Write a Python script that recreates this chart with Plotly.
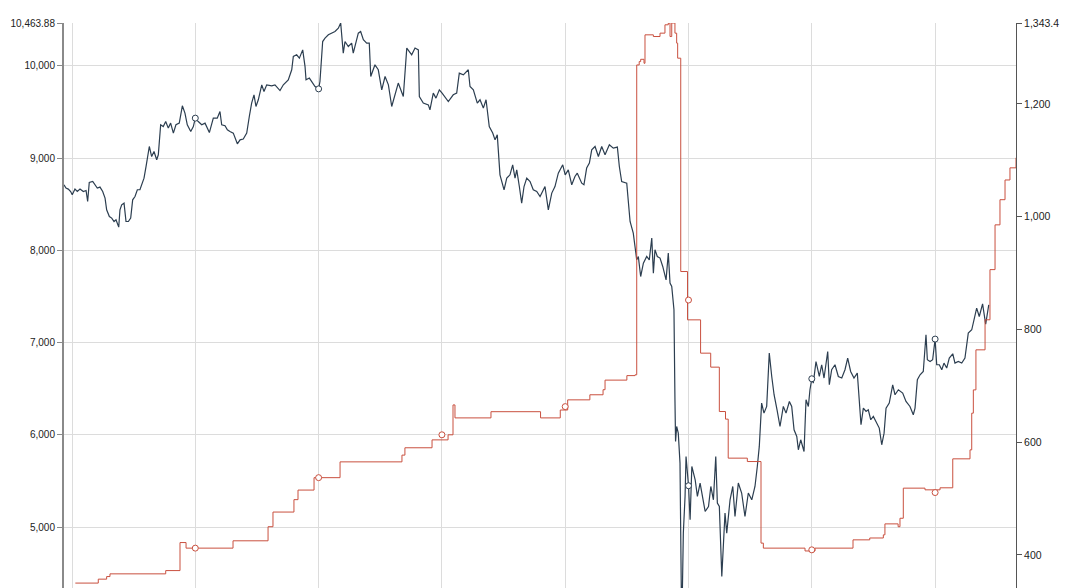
import plotly.graph_objects as go

# ---- data (x = days, gridlines every 10 days) ----
price_days = [-0.65,-0.49,-0.30,-0.11,0.02,0.24,0.43,0.65,0.92,1.14,1.27,1.40,1.68,1.87,2.05,2.27,2.49,2.68,2.81,3.03,
 3.22,3.41,3.57,3.79,3.89,4.03,4.22,4.38,4.57,4.76,4.92,5.11,5.30,5.51,5.65,5.84,6.00,6.27,6.46,6.65,
 6.87,7.00,7.19,7.40,7.60,7.81,8.00,8.22,8.43,8.70,8.95,9.16,9.35,9.63,9.84,10.00,10.24,10.52,10.79,11.14,
 11.46,11.78,12.00,12.14,12.41,12.60,12.81,13.08,13.41,13.63,13.89,14.17,14.38,14.57,14.76,14.92,15.11,15.39,15.57,15.79,
 16.20,16.46,16.87,17.14,17.54,17.82,17.95,18.22,18.44,18.71,18.90,18.98,19.25,19.44,19.71,20.00,20.11,20.33,20.52,20.79,
 21.06,21.33,21.60,21.79,22.00,22.14,22.41,22.68,22.81,23.03,23.22,23.41,23.63,23.90,24.11,24.23,24.57,24.84,25.12,25.39,
 25.66,25.93,26.20,26.46,26.87,27.15,27.55,27.82,28.09,28.17,28.49,28.90,29.03,29.30,29.52,29.79,30.00,30.52,30.92,31.20,
 31.41,31.74,32.14,32.28,32.55,32.87,33.09,33.36,33.58,33.84,34.12,34.31,34.49,34.71,35.04,35.26,35.52,35.74,35.93,36.07,
 36.28,36.47,36.66,36.88,37.15,37.41,37.69,37.96,38.36,38.63,38.91,39.17,39.44,39.80,40.00,40.25,40.53,40.79,40.98,41.34,
 41.52,41.74,41.96,42.15,42.42,42.69,42.96,43.23,43.58,43.90,44.23,44.39,44.58,44.99,45.26,45.52,45.66,45.80,45.93,46.12,
 46.34,46.61,46.82,47.02,47.15,47.28,47.47,47.69,47.91,48.18,48.36,48.50,48.64,48.82,48.90,48.95,49.04,49.17,49.31,49.45,
 49.58,49.72,49.80,50.00,50.13,50.27,50.54,50.72,50.94,51.08,51.35,51.62,51.81,52.02,52.21,52.34,52.50,52.70,52.96,53.10,
 53.37,53.59,53.77,54.04,54.31,54.58,54.85,55.13,55.39,55.58,55.74,55.93,56.12,56.34,56.55,56.75,56.94,57.18,57.42,57.69,
 57.91,58.18,58.37,58.56,58.78,58.91,59.10,59.37,59.53,59.72,59.85,60.00,60.12,60.34,60.61,60.80,60.99,61.29,61.42,61.61,
 61.88,62.15,62.43,62.69,62.91,63.15,63.42,63.69,63.91,63.99,64.18,64.40,64.58,64.78,64.99,65.26,65.47,65.67,65.86,66.02,
 66.28,66.56,66.75,67.02,67.37,67.64,67.96,68.23,68.37,68.56,68.78,69.04,69.26,69.37,69.59,69.80,70.00,70.13,70.34,70.54,
 70.72,70.94,71.15,71.43,71.61,71.88,72.16,72.42,72.69,72.97,73.24,73.37,73.58,73.85,74.10,74.35]
price_vals = [8710,8675,8664,8638,8602,8664,8638,8664,8638,8649,8530,8736,8747,8711,8675,8686,8638,8567,8440,8367,
 8350,8313,8332,8252,8440,8494,8512,8313,8313,8350,8548,8584,8657,8657,8711,8783,8906,9126,9017,9072,
 8982,9036,9361,9342,9396,9325,9379,9271,9361,9379,9567,9488,9361,9288,9342,9433,9396,9361,9379,9277,
 9433,9433,9505,9361,9350,9307,9288,9271,9155,9198,9206,9271,9451,9596,9686,9559,9632,9794,9722,9794,
 9783,9794,9732,9794,9848,9957,10101,10119,10083,10173,9992,9848,9867,9830,9776,9750,9830,10263,10300,10336,
 10354,10372,10408,10463.88,10137,10263,10209,10246,10137,10263,10354,10372,10282,10246,10246,9884,10011,9957,9740,9884,
 9794,9559,9686,9813,9667,10192,10119,10192,10173,9667,9596,9577,9523,9704,9650,9740,9707,9613,9686,9704,
 9921,9902,9957,9776,9740,9596,9632,9542,9632,9342,9271,9198,9252,8819,8656,8783,8819,8927,8783,8873,
 8692,8512,8692,8783,8746,8657,8638,8584,8692,8440,8621,8692,8837,8927,8819,8873,8711,8801,8837,8729,
 8711,8892,8946,9090,9126,9017,9126,9036,9144,9108,9119,8909,8746,8729,8313,8187,8042,7898,7934,7717,
 7862,7934,7898,8133,7754,8007,7934,7917,7826,7681,7971,7646,7609,7357,6381,5930,6092,6020,5695,3870,
 4937,5334,5767,5450,5081,5659,5515,5334,5479,5371,5171,5225,5442,5298,5767,5262,5225,4467,5154,4937,
 5298,5442,5117,5479,5371,5117,5371,5298,5442,5659,5876,6346,6237,6309,6887,6634,6436,6273,6092,6309,
 6237,6363,6309,6056,5984,5840,5948,5821,6381,6309,6490,6609,6562,6796,6634,6761,6617,6905,6544,6707,
 6761,6634,6617,6707,6833,6688,6617,6671,6309,6111,6291,6255,6273,6165,6201,6129,6075,5894,6020,6291,
 6346,6544,6436,6490,6454,6363,6309,6219,6291,6598,6652,6688,7086,6815,6797,6815,7039,6761,6761,6707,
 6779,6725,6833,6880,6779,6797,6779,6833,7104,7140,7284,7375,7284,7420,7200,7410]

other_days = [0.27,2.13,2.81,3.08,7.60,8.76,9.25,13.06,15.90,16.30,18.00,18.33,19.63,21.74,26.76,27.00,29.20,30.50,30.90,31.06,
 33.98,38.00,39.60,40.20,42.00,43.07,43.23,45.00,45.66,45.80,46.00,46.12,46.39,46.47,47.15,47.69,48.09,48.36,48.50,48.64,
 48.90,49.04,49.12,49.37,49.92,50.98,51.80,52.50,53.00,53.22,54.77,55.88,56.07,59.45,60.26,63.34,64.70,65.80,65.93,67.00,
 67.15,67.42,69.18,70.40,71.43,72.83,72.97,73.10,73.31,74.05,74.45,74.86,75.26,75.67,76.07,76.56]
other_vals = [350.0,357.0,361.6,366.4,372.2,421.9,412.0,425,450,476,498,515,537,565,577,590,604,613,666,643,
 654,643,657,675,684,693,710,718,719.4,1269,1275,1279,1272,1322.4,1319.4,1325.4,1340.2,1343.4,1319.4,1343.4,
 1325.4,1307.7,1281,902.6,816.9,757.8,733,654.3,640.8,571.6,565.6,420.9,412,407,412,426.7,430,435.6,455,450,
 465,518.4,515.4,519,570.4,586.3,651.4,692.7,763.7,817,906,985.4,1030,1065,1086.5,1104.3]

price_mark_days = [10, 20, 50, 60, 70]
price_mark_vals = [9433, 9750, 5450, 6609, 7039]
other_mark_days = [10, 20, 30, 40, 50, 60, 70]
other_mark_vals = [412, 537, 613, 663, 852, 409, 510.6]

left_ticks = [10463.88, 10000, 9000, 8000, 7000, 6000, 5000]
left_labels = ["10,463.88", "10,000", "9,000", "8,000", "7,000", "6,000", "5,000"]
right_ticks = [1343.4, 1200, 1000, 800, 600, 400]
right_labels = ["1,343.4", "1,200", "1,000", "800", "600", "400"]

DARK = "#2c3e50"
RED = "#c9503f"

fig = go.Figure()
fig.add_trace(go.Scatter(x=price_days, y=price_vals, mode="lines",
                         line=dict(color=DARK, width=1.2), yaxis="y", showlegend=False, hoverinfo="skip"))
fig.add_trace(go.Scatter(x=other_days, y=other_vals, mode="lines", line_shape="hv",
                         line=dict(color=RED, width=1), yaxis="y2", showlegend=False, hoverinfo="skip"))
fig.add_trace(go.Scatter(x=price_mark_days, y=price_mark_vals, mode="markers", yaxis="y",
                         marker=dict(symbol="circle", size=6, color="white", line=dict(color=DARK, width=1)),
                         showlegend=False, hoverinfo="skip"))
fig.add_trace(go.Scatter(x=other_mark_days, y=other_mark_vals, mode="markers", yaxis="y2",
                         marker=dict(symbol="circle", size=6, color="white", line=dict(color=RED, width=1)),
                         showlegend=False, hoverinfo="skip"))

fig.update_layout(
    width=1064, height=580,
    margin=dict(l=56, r=56, t=15, b=0, pad=0),
    paper_bgcolor="white", plot_bgcolor="white",
    font=dict(family="Liberation Sans, Arial, sans-serif", size=10, color="#222"),
    xaxis=dict(range=[-0.649, 76.56], tick0=0, dtick=10, showgrid=True, gridcolor="#dcdcdc", gridwidth=1,
               showticklabels=False, zeroline=False, showline=False, ticks=""),
    yaxis=dict(range=[4342, 10463.88], tickvals=left_ticks, ticktext=left_labels,
               showgrid=True, gridcolor="#dcdcdc", gridwidth=1, zeroline=False,
               showline=True, linecolor="#8a8a8a", linewidth=2, ticks="outside", ticklen=5,
               tickcolor="#8a8a8a", tickwidth=1, tickfont=dict(size=10)),
    yaxis2=dict(range=[341.3, 1343.4], tickvals=right_ticks, ticktext=right_labels, overlaying="y", side="right",
                showgrid=False, zeroline=False, showline=True, linecolor="#555", linewidth=1,
                ticks="outside", ticklen=5, tickcolor="#555", tickwidth=1, tickfont=dict(size=10.5)),
)

fig.write_html("out.html")
